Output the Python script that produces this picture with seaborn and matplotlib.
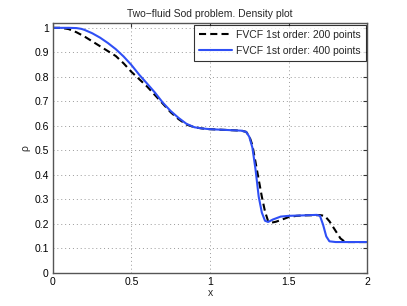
import matplotlib
matplotlib.use("Agg")
import matplotlib.pyplot as plt
import seaborn as sns
import numpy as np

x200 = [0.0, 0.05, 0.1, 0.15, 0.2, 0.25, 0.3, 0.35, 0.4, 0.45, 0.5, 0.55, 0.6, 0.65, 0.7, 0.75, 0.8,
        0.85, 0.9, 0.95, 1.0, 1.1, 1.2, 1.23, 1.25, 1.27, 1.29, 1.31, 1.33, 1.35, 1.37, 1.39, 1.42,
        1.46, 1.5, 1.55, 1.6, 1.7, 1.73, 1.76, 1.8, 1.83, 1.86, 2.0]
rho200 = [1.0, 1.0, 0.995, 0.982, 0.965, 0.945, 0.925, 0.905, 0.885, 0.855, 0.82, 0.79, 0.76, 0.725,
          0.69, 0.655, 0.627, 0.605, 0.594, 0.589, 0.586, 0.583, 0.58, 0.575, 0.558, 0.52, 0.45, 0.38,
          0.31, 0.25, 0.21, 0.204, 0.208, 0.217, 0.227, 0.232, 0.234, 0.235, 0.232, 0.21, 0.17, 0.14,
          0.125, 0.125]

x400 = [0.0, 0.1, 0.15, 0.18, 0.2, 0.25, 0.3, 0.35, 0.4, 0.45, 0.5, 0.55, 0.6, 0.65, 0.7, 0.75, 0.8,
        0.85, 0.9, 0.95, 1.0, 1.1, 1.2, 1.23, 1.25, 1.27, 1.29, 1.31, 1.33, 1.35, 1.37, 1.4, 1.45, 1.5,
        1.6, 1.68, 1.70, 1.72, 1.74, 1.76, 1.8, 2.0]
rho400 = [1.0, 1.0, 0.999, 0.996, 0.992, 0.978, 0.96, 0.938, 0.913, 0.883, 0.848, 0.808, 0.772, 0.735,
          0.694, 0.66, 0.632, 0.608, 0.594, 0.589, 0.586, 0.583, 0.58, 0.575, 0.555, 0.51, 0.42, 0.31,
          0.245, 0.212, 0.207, 0.217, 0.229, 0.232, 0.234, 0.236, 0.232, 0.195, 0.148, 0.128, 0.125,
          0.125]

labels = ["FVCF 1st order: 200 points", "FVCF 1st order: 400 points"]
xticks = [0, 0.5, 1, 1.5, 2]
xticklabels = ["0", "0.5", "1", "1.5", "2"]
yticks = [0, 0.1, 0.2, 0.3, 0.4, 0.5, 0.6, 0.7, 0.8, 0.9, 1.0]
yticklabels = ["0", "0.1", "0.2", "0.3", "0.4", "0.5", "0.6", "0.7", "0.8", "0.9", "1"]

sns.set_style("white")
plt.rcParams["font.family"] = ["Liberation Sans", "DejaVu Sans"]

fig = plt.figure(figsize=(4.07, 3.06), dpi=100)
ax = fig.add_axes([0.130, 0.109, 0.772, 0.816])

sns.lineplot(x=x200, y=rho200, ax=ax, color="black", linestyle=(0, (3.4, 2.0)), linewidth=1.5,
             sort=False, estimator=None, label=labels[0])
sns.lineplot(x=x400, y=rho400, ax=ax, color="#2f4ff5", linewidth=1.5,
             sort=False, estimator=None, label=labels[1])

ax.set_xlim(0, 2)
ax.set_ylim(0, 1.02)
ax.set_xticks(xticks)
ax.set_xticklabels(xticklabels)
ax.set_yticks(yticks)
ax.set_yticklabels(yticklabels)
ax.grid(True, linestyle=(0, (1, 3)), color="#999999", linewidth=0.7)
ax.tick_params(direction="in", length=3, labelsize=7.5, top=True, right=True, colors="#333333",
               labelcolor="black", pad=3)
for s in ax.spines.values():
    s.set_color("#555555")
    s.set_linewidth(1.0)
ax.set_title("Two\u2212fluid Sod problem. Density plot", fontsize=7.5, pad=4)
ax.set_xlabel("x", fontsize=7.5, labelpad=1)
ax.set_ylabel("\u03c1", fontsize=7.5, labelpad=3)

leg = ax.legend(loc="upper right", fontsize=7.5, frameon=True, fancybox=False, borderpad=0.5,
                handlelength=3.2, labelspacing=0.6, borderaxespad=0.15, handletextpad=0.3)
leg.get_frame().set_edgecolor("black")
leg.get_frame().set_linewidth(0.8)

fig.savefig("out.png", dpi=100)
